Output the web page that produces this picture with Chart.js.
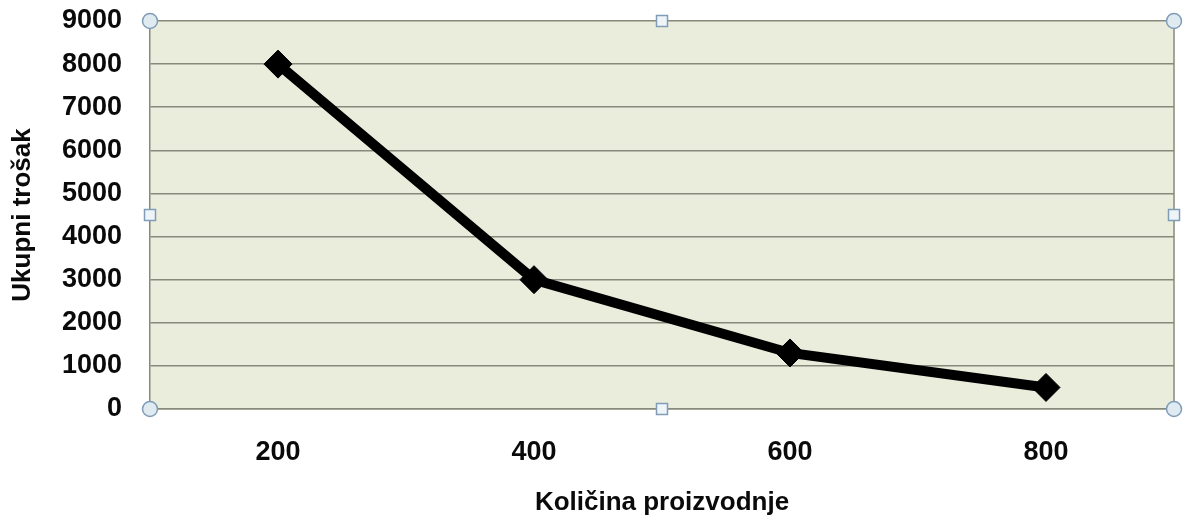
<!DOCTYPE html>
<html>
<head>
<meta charset="utf-8">
<script src="https://cdn.jsdelivr.net/npm/chart.js@4"></script>
<style>
  html, body { margin: 0; padding: 0; background: #fff; }
  #wrap { width: 1189px; height: 520px; }
</style>
</head>
<body>
<div id="wrap"><canvas id="cost"></canvas></div>
<script>
// data
const quantities = ["200", "400", "600", "800"];
const totalCost = [8000, 3000, 1300, 500];
const yTicks = [0, 1000, 2000, 3000, 4000, 5000, 6000, 7000, 8000, 9000];

const gridGray = "#858a7b";

// plot background + right edge
const plotArea = {
  id: "plotArea",
  beforeDraw(chart) {
    const { ctx, chartArea: a } = chart;
    ctx.save();
    ctx.fillStyle = "#eaeddc";
    ctx.fillRect(a.left, a.top, a.right - a.left, a.bottom - a.top);
    ctx.restore();
  },
  afterDatasetsDraw(chart) {
    const { ctx, chartArea: a } = chart;
    ctx.save();
    ctx.strokeStyle = gridGray;
    ctx.lineWidth = 1.5;
    ctx.beginPath();
    ctx.moveTo(a.right, a.top);
    ctx.lineTo(a.right, a.bottom);
    ctx.stroke();
    ctx.restore();
  },
};

// excel-like selection handles
const handles = {
  id: "handles",
  afterDraw(chart) {
    const { ctx, chartArea: a } = chart;
    const midX = (a.left + a.right) / 2;
    const midY = (a.top + a.bottom) / 2;
    ctx.save();
    ctx.lineWidth = 1.5;
    ctx.strokeStyle = "#7f9db8";
    [[a.left, a.top], [a.right, a.top], [a.left, a.bottom], [a.right, a.bottom]].forEach(([x, y]) => {
      ctx.beginPath();
      ctx.arc(x, y, 7.5, 0, Math.PI * 2);
      ctx.fillStyle = "#dfeaf1";
      ctx.fill();
      ctx.stroke();
    });
    [[midX, a.top], [midX, a.bottom], [a.left, midY], [a.right, midY]].forEach(([x, y]) => {
      ctx.fillStyle = "#eef4f8";
      ctx.fillRect(x - 5.5, y - 5.5, 11, 11);
      ctx.strokeRect(x - 5.5, y - 5.5, 11, 11);
    });
    ctx.restore();
  },
};

let mycost = document.getElementById("cost").getContext("2d");
let Cost = new Chart(mycost, {
  type: "line",
  data: {
    labels: quantities,
    datasets: [
      {
        label: "Ukupni trošak",
        data: totalCost,
        borderColor: "#000",
        backgroundColor: "#000",
        borderWidth: 10,
        pointStyle: "rectRot",
        pointRadius: 14,
        pointBackgroundColor: "#000",
        pointBorderColor: "#000",
        pointBorderWidth: 1,
        tension: 0,
      },
    ],
  },
  options: {
    responsive: true,
    maintainAspectRatio: false,
    animation: false,
    layout: { padding: 0 },
    plugins: { legend: { display: false }, tooltip: { enabled: false } },
    scales: {
      x: {
        offset: true,
        grid: { drawOnChartArea: false, drawTicks: false },
        border: { display: true, color: gridGray, width: 1.5 },
        ticks: {
          padding: 27,
          color: "#0a0a0a",
          font: { family: "Liberation Sans", size: 27, weight: "bold" },
        },
        title: {
          display: true,
          text: "Količina proizvodnje",
          color: "#0a0a0a",
          font: { family: "Liberation Sans", size: 26, weight: "bold" },
          padding: { top: 0, bottom: 2 },
        },
        afterFit(scale) {
          scale.height = 111;
          scale.paddingLeft = 0;
          scale.paddingRight = 7;
        },
      },
      y: {
        min: 0,
        max: 9000,
        afterBuildTicks(scale) { scale.ticks = yTicks.map((v) => ({ value: v })); },
        grid: { color: gridGray, lineWidth: 1.5, drawTicks: false },
        border: { display: true, color: gridGray, width: 1.5 },
        ticks: {
          padding: 28,
          color: "#0a0a0a",
          font: { family: "Liberation Sans", size: 27, weight: "bold" },
          callback: (v) => String(v),
        },
        title: {
          display: true,
          text: "Ukupni trošak",
          color: "#0a0a0a",
          font: { family: "Liberation Sans", size: 26, weight: "bold" },
          padding: { top: 7, bottom: 0 },
        },
        afterFit(scale) {
          scale.width = 150;
          scale.paddingTop = 21;
          scale.paddingBottom = 0;
        },
      },
    },
  },
  plugins: [plotArea, handles],
});
</script>
</body>
</html>
